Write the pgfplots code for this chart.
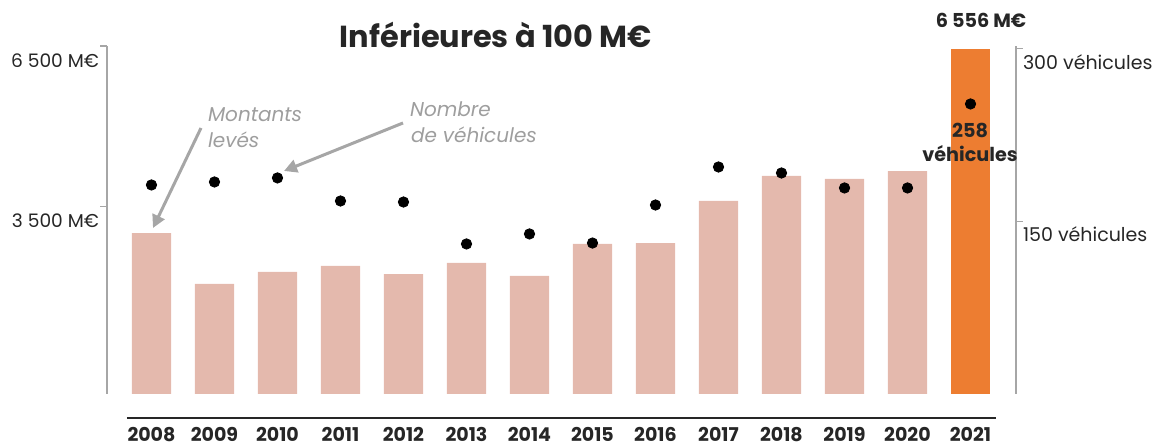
\documentclass[border=0pt]{standalone}
\usepackage{fontspec}
\setmainfont{Poppins}
\usepackage{pgfplots}
\pgfplotsset{compat=1.18}
\usetikzlibrary{arrows.meta}

\definecolor{barpink}{HTML}{E4B9AD}
\definecolor{barorange}{HTML}{ED7D31}
\definecolor{axgray}{HTML}{A6A6A6}
\definecolor{txtdark}{HTML}{262626}
\definecolor{notegray}{HTML}{9E9E9E}

\begin{document}
\begin{tikzpicture}[font=\fontsize{10}{12}\selectfont, text=txtdark,
  lbl/.style={inner sep=0pt, outer sep=0pt},
  bold/.style={lbl, anchor=base, font=\fontsize{9.6}{12}\selectfont\bfseries},
  note/.style={lbl, anchor=base west, text=notegray, font=\fontsize{10}{12}\selectfont\itshape},
  noteline/.style={axgray, line width=1.5pt, -{Triangle[length=6.5pt,width=6.5pt]}}]

% amounts raised (M€), left axis
\begin{axis}[
  at={(0,0)}, anchor=south west, scale only axis,
  width=454.5pt, height=174pt,
  xmin=2007.294, xmax=2021.722, ymin=0, ymax=6500,
  axis y line*=left, axis x line*=bottom,
  axis line style={axgray, line width=0.6pt},
  x axis line style={draw=none},
  xtick={2008,...,2021},
  xticklabels={2008,2009,2010,2011,2012,2013,2014,2015,2016,2017,2018,2019,2020,2021},
  xticklabel style={font=\fontsize{9.5}{12}\selectfont\bfseries, anchor=base, inner sep=0pt, yshift=-20.5pt},
  xtick style={draw=none},
  ytick={3500,6500}, yticklabels={},
  ytick style={axgray, line width=0.6pt},
  tick align=outside, major tick length=3.5pt,
  clip=false,
]
\addplot[ybar, bar width=0.62, bar shift=0pt, fill=barpink, draw=none] coordinates {
(2008,3007)(2009,2055)(2010,2279)(2011,2391)(2012,2241)(2013,2447)(2014,2204)
(2015,2802)(2016,2820)(2017,3605)(2018,4072)(2019,4016)(2020,4165)
};
\addplot[ybar, bar width=0.62, bar shift=0pt, fill=barorange, draw=none] coordinates {(2021,6444)};

\node[lbl, anchor=base east, xshift=-4pt, yshift=-11pt, font=\fontsize{9.3}{12}\selectfont] at (axis cs:2007.294,6500) {6 500 M€};
\node[lbl, anchor=base east, xshift=-4pt, yshift=-10.5pt, font=\fontsize{9.3}{12}\selectfont] at (axis cs:2007.294,3500) {3 500 M€};
\end{axis}

% number of vehicles, right axis
\begin{axis}[
  at={(0,0)}, anchor=south west, scale only axis,
  width=454.5pt, height=174pt,
  xmin=2007.294, xmax=2021.722, ymin=0, ymax=302,
  axis y line*=right, axis x line=none,
  axis line style={axgray, line width=0.6pt},
  ytick={150,300}, yticklabels={},
  ytick style={axgray, line width=0.6pt},
  tick align=outside, major tick length=3.5pt,
  clip=false,
]
\addplot[only marks, mark=*, mark size=2.6pt, mark options={fill=black, draw=none}] coordinates {
(2008,181.4)(2009,184)(2010,187.5)(2011,167.5)(2012,166.6)(2013,130.2)(2014,138.9)
(2015,131)(2016,164)(2017,197)(2018,191.8)(2019,178.8)(2020,178.8)(2021,251.7)
};
\node[lbl, anchor=base west, xshift=3.5pt, yshift=-10.5pt, font=\fontsize{9.5}{12}\selectfont] at (axis cs:2021.722,300) {300 véhicules};
\node[lbl, anchor=base west, xshift=3.5pt, yshift=-10pt, font=\fontsize{9.5}{12}\selectfont] at (axis cs:2021.722,150) {150 véhicules};
\end{axis}

% title, labels and notes in reference pixels
\begin{scope}[x=0.5pt, y=-0.5pt, shift={(-53.5pt,197pt)}]
\node[lbl, anchor=base, font=\fontsize{15.2}{18}\selectfont\bfseries] at (496,48) {Inférieures à 100 M€};
\node[bold] at (981,28) {6 556 M€};
\node[bold] at (970,138) {258};
\node[bold] at (970,162) {véhicules};

\draw[txtdark, line width=1.3pt] (127,418) -- (996,418);

\draw[noteline] (201,128) -- (153,228);
\draw[noteline] (403,123) -- (284,171);
\node[note] at (208,122) {Montants};
\node[note] at (208,148) {levés};
\node[note] at (410,117) {Nombre};
\node[note] at (411,143) {de véhicules};

% picture frame: the 1157 x 448 reference
\pgfresetboundingbox
\useasboundingbox (0,0) rectangle (1157,448);
\end{scope}
\end{tikzpicture}
\end{document}
